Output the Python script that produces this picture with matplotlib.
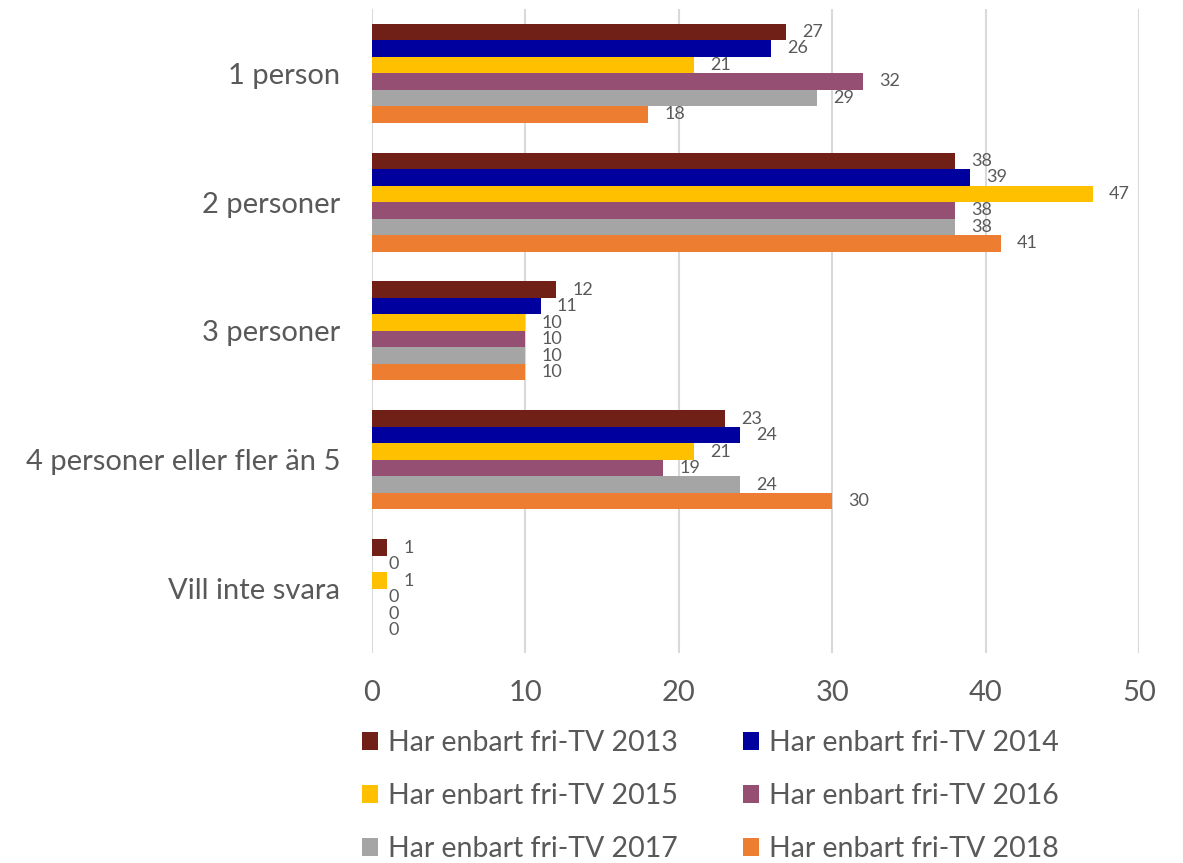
import numpy as np
import matplotlib.pyplot as plt
from matplotlib.patches import Patch

plt.rcParams['font.family'] = ['Lato', 'DejaVu Sans']

categories = ['1 person', '2 personer', '3 personer', '4 personer eller fler än 5', 'Vill inte svara']
series_names = ['Har enbart fri-TV 2013', 'Har enbart fri-TV 2014', 'Har enbart fri-TV 2015',
                'Har enbart fri-TV 2016', 'Har enbart fri-TV 2017', 'Har enbart fri-TV 2018']
v2013 = [27, 38, 12, 23, 1]
v2014 = [26, 39, 11, 24, 0]
v2015 = [21, 47, 10, 21, 1]
v2016 = [32, 38, 10, 19, 0]
v2017 = [29, 38, 10, 24, 0]
v2018 = [18, 41, 10, 30, 0]
xticks = [0, 10, 20, 30, 40, 50]

series = [v2013, v2014, v2015, v2016, v2017, v2018]
bar_colors = ['#702017', '#00009E', '#FFC000', '#954F72', '#A5A5A5', '#ED7D31']
text_col = '#595959'

fig = plt.figure(figsize=(11.83, 8.63), dpi=100)
ax = fig.add_axes([0.3145, 0.243, 0.6483, 0.747])

y = np.arange(len(categories))
h = 0.128
handles = []
for i, (vals, col) in enumerate(zip(series, bar_colors)):
    pos = y - 2.5 * h + i * h
    ax.barh(pos, vals, height=h, color=col, zorder=3)
    for p, v in zip(pos, vals):
        ax.annotate(str(v), (v, p), xytext=(11.5, 0), textcoords='offset points',
                    va='center', ha='left', fontsize=13, color=text_col)
    handles.append(Patch(facecolor=col, label=series_names[i]))

ax.set_ylim(len(categories) - 0.5, -0.5)
ax.set_xlim(0, 50)
ax.set_xticks(xticks)
ax.set_yticks(y)
ax.set_yticklabels(categories)
ax.grid(axis='x', color='#D9D9D9', linewidth=1.5, zorder=0)
for s in ax.spines.values():
    s.set_visible(False)
ax.tick_params(axis='both', length=0, labelsize=21, colors=text_col)
ax.tick_params(axis='y', pad=23)
ax.tick_params(axis='x', pad=19)

order = [0, 2, 4, 1, 3, 5]
leg = fig.legend([handles[k] for k in order], [series_names[k] for k in order],
                 ncol=2, loc='upper left', bbox_to_anchor=(0.306, 0.154),
                 frameon=False, fontsize=20.5, handlelength=0.56, handleheight=0.56,
                 handletextpad=0.35, columnspacing=2.3, labelspacing=0.95,
                 borderaxespad=0, borderpad=0)
for t in leg.get_texts():
    t.set_color(text_col)

fig.savefig('out.png', dpi=100)
